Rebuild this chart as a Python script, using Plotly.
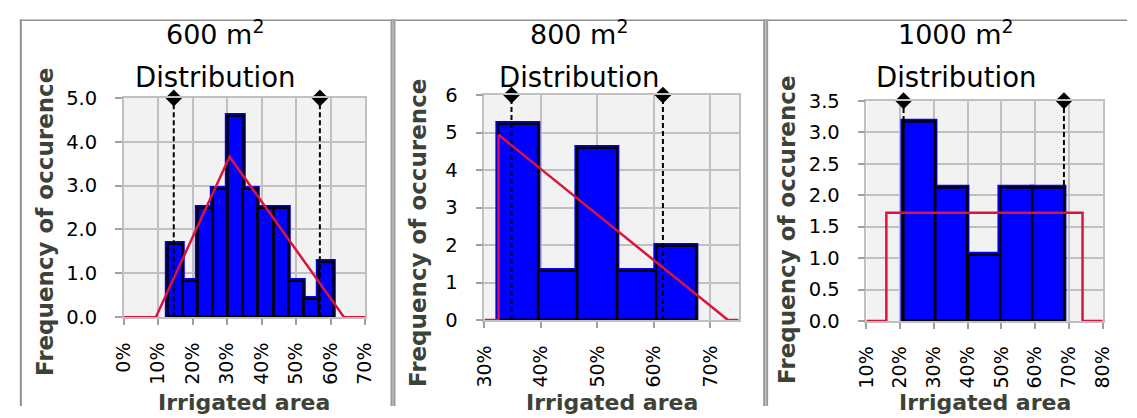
import plotly.graph_objects as go

# ---------------- data ----------------
titles = ["600 m<sup>2</sup>", "800 m<sup>2</sup>", "1000 m<sup>2</sup>"]
subtitle = "Distribution"
x_title = "Irrigated area"
y_title = "Frequency of occurence"

p600_centers = [0.149, 0.193, 0.237, 0.281, 0.325, 0.368, 0.412, 0.456, 0.500, 0.544, 0.588]
p600_freq = [1.67, 0.83, 2.50, 2.92, 4.58, 2.92, 2.50, 2.50, 0.83, 0.42, 1.25]
p600_fit_x = [0.0, 0.093, 0.307, 0.639, 0.70]
p600_fit_y = [0, 0, 3.66, 0, 0]
p600_bounds = [0.145, 0.569]

p800_centers = [0.360, 0.430, 0.500, 0.570, 0.640]
p800_freq = [5.23, 1.31, 4.58, 1.31, 1.96]
p800_fit_x = [0.30, 0.325, 0.325, 0.731, 0.75]
p800_fit_y = [0, 0, 4.94, 0, 0]
p800_bounds = [0.348, 0.616]

p1000_centers = [0.258, 0.353, 0.449, 0.544, 0.640]
p1000_freq = [3.16, 2.11, 1.05, 2.11, 2.11]
p1000_fit_x = [0.10, 0.159, 0.159, 0.740, 0.740, 0.80]
p1000_fit_y = [0, 0, 1.72, 1.72, 0, 0]
p1000_bounds = [0.210, 0.685]

# ---------------- layout config ----------------
W, H = 1137, 418
def px(x):
    return x / W
def py(y):
    return 1 - y / H

panels = [
    dict(centers=p600_centers, freq=p600_freq, fx=p600_fit_x, fy=p600_fit_y, bounds=p600_bounds,
         xr=[0.0, 0.7], xt=[0.0, 0.1, 0.2, 0.3, 0.4, 0.5, 0.6, 0.7], yr=[0, 5], dy=1, yfmt=".1f",
         dom_x=[114, 360], dom_y=[92, 324], title_x=207, ytitle_xy=(33, 223), xtitle_x=237),
    dict(centers=p800_centers, freq=p800_freq, fx=p800_fit_x, fy=p800_fit_y, bounds=p800_bounds,
         xr=[0.3, 0.75], xt=[0.3, 0.4, 0.5, 0.6, 0.7], yr=[0, 6], dy=1, yfmt="d",
         dom_x=[481.7, 741], dom_y=[89, 327], title_x=578, ytitle_xy=(414, 235), xtitle_x=612),
    dict(centers=p1000_centers, freq=p1000_freq, fx=p1000_fit_x, fy=p1000_fit_y, bounds=p1000_bounds,
         xr=[0.1, 0.8], xt=[0.1, 0.2, 0.3, 0.4, 0.5, 0.6, 0.7, 0.8], yr=[0, 3.5], dy=0.5, yfmt=".1f",
         dom_x=[871.3, 1112.3], dom_y=[95, 328], title_x=963, ytitle_xy=(791, 232), xtitle_x=992),
]

FONT = "DejaVu Sans"
BLUE = "#0000FF"
RED = "#DC143C"
GRID = "#c0c0c0"
AXT = "#3c4237"

fig = go.Figure()
annotations = []
layout_axes = {}

for i, p in enumerate(panels):
    n = "" if i == 0 else str(i + 1)
    xa, ya = "x" + n, "y" + n
    width = p["centers"][1] - p["centers"][0]
    top = p["yr"][1]
    # bars: blue glow underneath, then outlined bars
    fig.add_trace(go.Bar(x=p["centers"], y=p["freq"], width=width, xaxis=xa, yaxis=ya,
                         marker=dict(color=BLUE, line=dict(color=BLUE, width=5)),
                         showlegend=False, hoverinfo="skip"))
    fig.add_trace(go.Bar(x=p["centers"], y=p["freq"], width=width, xaxis=xa, yaxis=ya,
                         marker=dict(color=BLUE, line=dict(color="black", width=2.5)),
                         showlegend=False))
    # dashed bounds
    b0, b1 = p["bounds"]
    fig.add_trace(go.Scatter(x=[b0, b0, None, b1, b1], y=[0, top, None, 0, top], xaxis=xa, yaxis=ya,
                             mode="lines", line=dict(color="black", width=2, dash="5px,3px"),
                             showlegend=False, hoverinfo="skip"))
    fig.add_trace(go.Scatter(x=[b0, b1], y=[top, top], xaxis=xa, yaxis=ya, mode="markers",
                             marker=dict(symbol="diamond", size=13, color="black"),
                             cliponaxis=False, showlegend=False))
    # fitted distribution
    fig.add_trace(go.Scatter(x=p["fx"], y=p["fy"], xaxis=xa, yaxis=ya, mode="lines",
                             line=dict(color=RED, width=2.5), showlegend=False))

    layout_axes["xaxis" + n] = dict(
        domain=[px(p["dom_x"][0]), px(p["dom_x"][1])], anchor=ya, range=p["xr"],
        tickmode="array", tickvals=p["xt"], tickformat=".0%", tickangle=-90,
        showgrid=True, gridcolor=GRID, gridwidth=1.5, showline=True, linecolor=GRID, linewidth=1.5,
        mirror=True, ticks="outside", ticklen=6, tickcolor="#a0a0a0", tickwidth=1.5,
        tickfont=dict(family=FONT, size=19, color="black"), ticklabelstandoff=10, zeroline=False,
        fixedrange=True)
    layout_axes["yaxis" + n] = dict(
        domain=[py(p["dom_y"][1]), py(p["dom_y"][0])], anchor=xa, range=p["yr"],
        tickmode="linear", tick0=0, dtick=p["dy"], tickformat=p["yfmt"],
        showgrid=True, gridcolor=GRID, gridwidth=1.5, showline=True, linecolor=GRID, linewidth=1.5,
        mirror=True, ticks="outside", ticklen=7, tickcolor="#a0a0a0", tickwidth=1.5,
        tickfont=dict(family=FONT, size=19.5, color="black"), ticklabelstandoff=14, zeroline=False,
        fixedrange=True)

    annotations += [
        dict(text=titles[i], x=px(p["title_x"]), y=py(23), xref="paper", yref="paper",
             showarrow=False, xanchor="center", yanchor="middle",
             font=dict(family=FONT, size=27, color="black")),
        dict(text=subtitle, x=px(p["title_x"]), y=py(70), xref="paper", yref="paper",
             showarrow=False, xanchor="center", yanchor="middle",
             font=dict(family=FONT, size=27.5, color="black")),
        dict(text="<b>" + y_title + "</b>", x=px(p["ytitle_xy"][0]), y=py(p["ytitle_xy"][1]),
             xref="paper", yref="paper", showarrow=False, textangle=-90,
             xanchor="center", yanchor="middle", font=dict(family=FONT, size=23, color=AXT)),
        dict(text="<b>" + x_title + "</b>", x=px(p["xtitle_x"]), y=py(414),
             xref="paper", yref="paper", showarrow=False,
             xanchor="center", yanchor="middle", font=dict(family=FONT, size=22, color=AXT)),
    ]

shapes = [
    dict(type="line", xref="paper", yref="paper", x0=px(8), x1=1, y0=py(9.8), y1=py(9.8),
         line=dict(color="#8f8f8f", width=1.5)),
    dict(type="line", xref="paper", yref="paper", x0=px(9), x1=px(9), y0=py(9), y1=0,
         line=dict(color="#8f8f8f", width=2)),
]
for sx in (388.5, 768.5):
    shapes.append(dict(type="line", xref="paper", yref="paper", x0=px(sx), x1=px(sx), y0=py(9), y1=0,
                       line=dict(color="#9a9a9a", width=5)))
    shapes.append(dict(type="line", xref="paper", yref="paper", x0=px(sx), x1=px(sx), y0=py(10), y1=0,
                       line=dict(color="#c4c4c4", width=1.2)))

fig.update_layout(
    width=W, height=H, margin=dict(l=0, r=0, t=0, b=0),
    paper_bgcolor="white", plot_bgcolor="#f2f2f2",
    barmode="overlay", bargap=0, showlegend=False,
    annotations=annotations, shapes=shapes,
    font=dict(family=FONT),
    **layout_axes,
)

fig.write_html("out.html")
